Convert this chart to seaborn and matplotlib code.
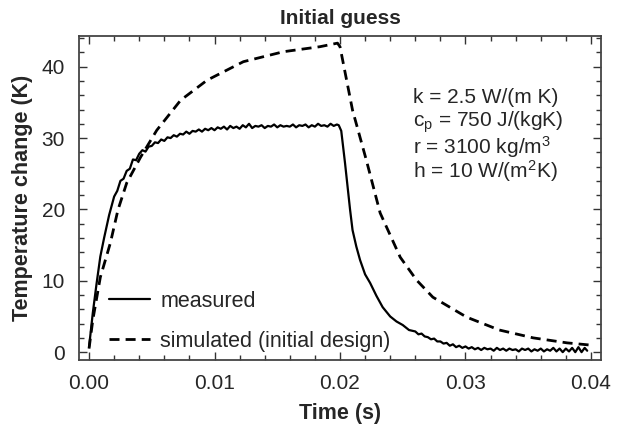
import seaborn as sns
import matplotlib.pyplot as plt
import pandas as pd
from matplotlib.ticker import MultipleLocator

# measured temperature rise (noisy trace)
t_meas = [0.0, 0.0003, 0.0006, 0.0009, 0.0012, 0.0016, 0.002, 0.00225, 0.0025, 0.00275,
          0.003, 0.00325, 0.0035, 0.00375,
          0.004, 0.00425, 0.0045, 0.00475, 0.005, 0.00525, 0.0055, 0.00575,
          0.006, 0.00625, 0.0065, 0.00675, 0.007, 0.00725, 0.0075, 0.00775,
          0.008, 0.00825, 0.0085, 0.00875, 0.009, 0.00925, 0.0095, 0.00975,
          0.010, 0.01025, 0.0105, 0.01075, 0.011, 0.01125, 0.0115, 0.01175,
          0.012, 0.01225, 0.0125, 0.01275, 0.013, 0.01325, 0.0135, 0.01375,
          0.014, 0.01425, 0.0145, 0.01475, 0.015, 0.01525, 0.0155, 0.01575,
          0.016, 0.01625, 0.0165, 0.01675, 0.017, 0.01725, 0.0175, 0.01775,
          0.018, 0.01825, 0.0185, 0.01875, 0.019, 0.01925, 0.0195, 0.01975,
          0.0199, 0.0201, 0.0204, 0.0208, 0.021, 0.0213, 0.0216, 0.022,
          0.0224, 0.0229, 0.0234, 0.024, 0.0245, 0.025, 0.0255,
          0.026, 0.02625, 0.0265, 0.02675, 0.027, 0.02725, 0.0275, 0.02775,
          0.028, 0.02825, 0.0285, 0.02875, 0.029, 0.02925, 0.0295, 0.02975,
          0.030, 0.03025, 0.0305, 0.03075, 0.031, 0.03125, 0.0315, 0.03175,
          0.032, 0.03225, 0.0325, 0.03275, 0.033, 0.03325, 0.0335, 0.03375,
          0.034, 0.03425, 0.0345, 0.03475, 0.035, 0.03525, 0.0355, 0.03575,
          0.036, 0.03625, 0.0365, 0.03675, 0.037, 0.03725, 0.0375, 0.03775,
          0.038, 0.03825, 0.0385, 0.03875, 0.039, 0.03925, 0.0395, 0.0397]
y_meas = [0.7, 5.5, 9.6, 13.4, 16.0, 19.2, 21.8, 22.6, 24.0, 24.3,
          25.4, 25.7, 27.0, 26.9,
          27.8, 28.3, 28.1, 28.8, 28.9, 29.4, 29.3, 29.8,
          29.6, 30.1, 30.0, 30.4, 30.2, 30.6, 30.5, 30.9,
          30.6, 31.0, 30.9, 31.2, 30.9, 31.3, 31.1, 31.4,
          31.1, 31.5, 31.3, 31.6, 31.2, 31.7, 31.4, 31.6,
          31.3, 31.8, 31.5, 32.0, 31.4, 31.7, 31.6, 31.8,
          31.4, 31.7, 31.6, 31.9, 31.5, 31.8, 31.6, 31.7,
          31.6, 31.9, 31.5, 31.8, 31.7, 31.9, 31.5, 31.8,
          31.6, 32.0, 31.7, 31.8, 31.6, 32.0, 31.7, 31.9,
          31.8, 31.0, 26.5, 20.0, 17.1, 14.8, 12.9, 10.9,
          9.7, 7.9, 6.3, 5.0, 4.3, 3.8, 3.1,
          2.9, 2.5, 2.6, 2.2, 2.1, 1.8, 1.9, 1.5,
          1.5, 1.2, 1.3, 0.9, 1.1, 0.7, 0.9, 0.6,
          0.8, 0.5, 0.7, 0.4, 0.6, 0.3, 0.6, 0.4,
          0.5, 0.2, 0.6, 0.3, 0.5, 0.2, 0.5, 0.3,
          0.4, 0.1, 0.5, 0.3, 0.5, 0.1, 0.4, 0.2,
          0.5, 0.1, 0.4, 0.2, 0.6, 0.1, 0.5, 0.0,
          0.5, 0.1, 0.6, 0.0, 0.7, 0.0, 0.6, 0.2]

# simulated (initial design)
t_sim = [0.0, 0.0003, 0.0009, 0.0017, 0.0023, 0.003, 0.0041, 0.0054, 0.0073, 0.0094,
         0.0123, 0.0155, 0.0184, 0.0198, 0.02, 0.021, 0.0221, 0.0232, 0.0248, 0.0261,
         0.0274, 0.0301, 0.0327, 0.0354, 0.0381, 0.0399]
y_sim = [0.5, 4.5, 10.5, 15.3, 19.9, 23.7, 27.3, 31.1, 35.3, 38.1,
         40.7, 42.1, 42.8, 43.3, 42.8, 33.9, 26.9, 19.5, 13.3, 10.1,
         7.7, 4.9, 3.1, 2.0, 1.3, 1.0]

params = ["k = 2.5 W/(m K)",
          "c$_\\mathregular{p}$ = 750 J/(kgK)",
          "r = 3100 kg/m$^\\mathregular{3}$",
          "h = 10 W/(m$^\\mathregular{2}$K)"]

sns.set_style("ticks")
plt.rcParams['font.family'] = ['Liberation Sans', 'DejaVu Sans']
plt.rcParams['mathtext.default'] = 'regular'

df_meas = pd.DataFrame({'t': t_meas, 'T': y_meas})
df_sim = pd.DataFrame({'t': t_sim, 'T': y_sim})

fig, ax = plt.subplots(figsize=(6.19, 4.28), dpi=100)
fig.subplots_adjust(left=79/619, right=601/619, top=1-36/428, bottom=1-360/428)

sns.lineplot(data=df_meas, x='t', y='T', ax=ax, color='black', lw=1.6,
             label='measured')
sns.lineplot(data=df_sim, x='t', y='T', ax=ax, color='black', lw=2.0,
             label='simulated (initial design)')
ax.lines[1].set_dashes((3.6, 2.2))

ax.set_xlim(-0.0008, 0.0408)
ax.set_ylim(-1.1, 44.3)
ax.xaxis.set_major_locator(MultipleLocator(0.01))
ax.xaxis.set_minor_locator(MultipleLocator(0.002))
ax.yaxis.set_major_locator(MultipleLocator(10))
ax.yaxis.set_minor_locator(MultipleLocator(2))
ax.set_xticks([0, 0.01, 0.02, 0.03, 0.04])
ax.set_xticklabels(['0.00', '0.01', '0.02', '0.03', '0.04'])
ax.tick_params(which='both', direction='in', top=True, right=True,
               color='#333333', labelsize=15, pad=10)
ax.tick_params(which='major', length=6, width=1)
ax.tick_params(which='minor', length=3.5, width=1)
for s in ax.spines.values():
    s.set_color('#444444')
    s.set_linewidth(1.3)

ax.set_xlabel('Time (s)', fontsize=15.5, fontweight='bold', labelpad=7)
ax.set_ylabel('Temperature change (K)', fontsize=15.5, fontweight='bold', labelpad=6)
ax.set_title('Initial guess', fontsize=15, fontweight='bold', pad=9)

for i, s in enumerate(params):
    ax.text(0.0258, 35.7 - i * 3.45, s, fontsize=15, va='center')

ax.legend(loc='lower left', bbox_to_anchor=(0.02, -0.035), frameon=False,
          fontsize=15.5, handlelength=1.9, handletextpad=0.5, labelspacing=0.9)

plt.savefig('out.png', dpi=100)
